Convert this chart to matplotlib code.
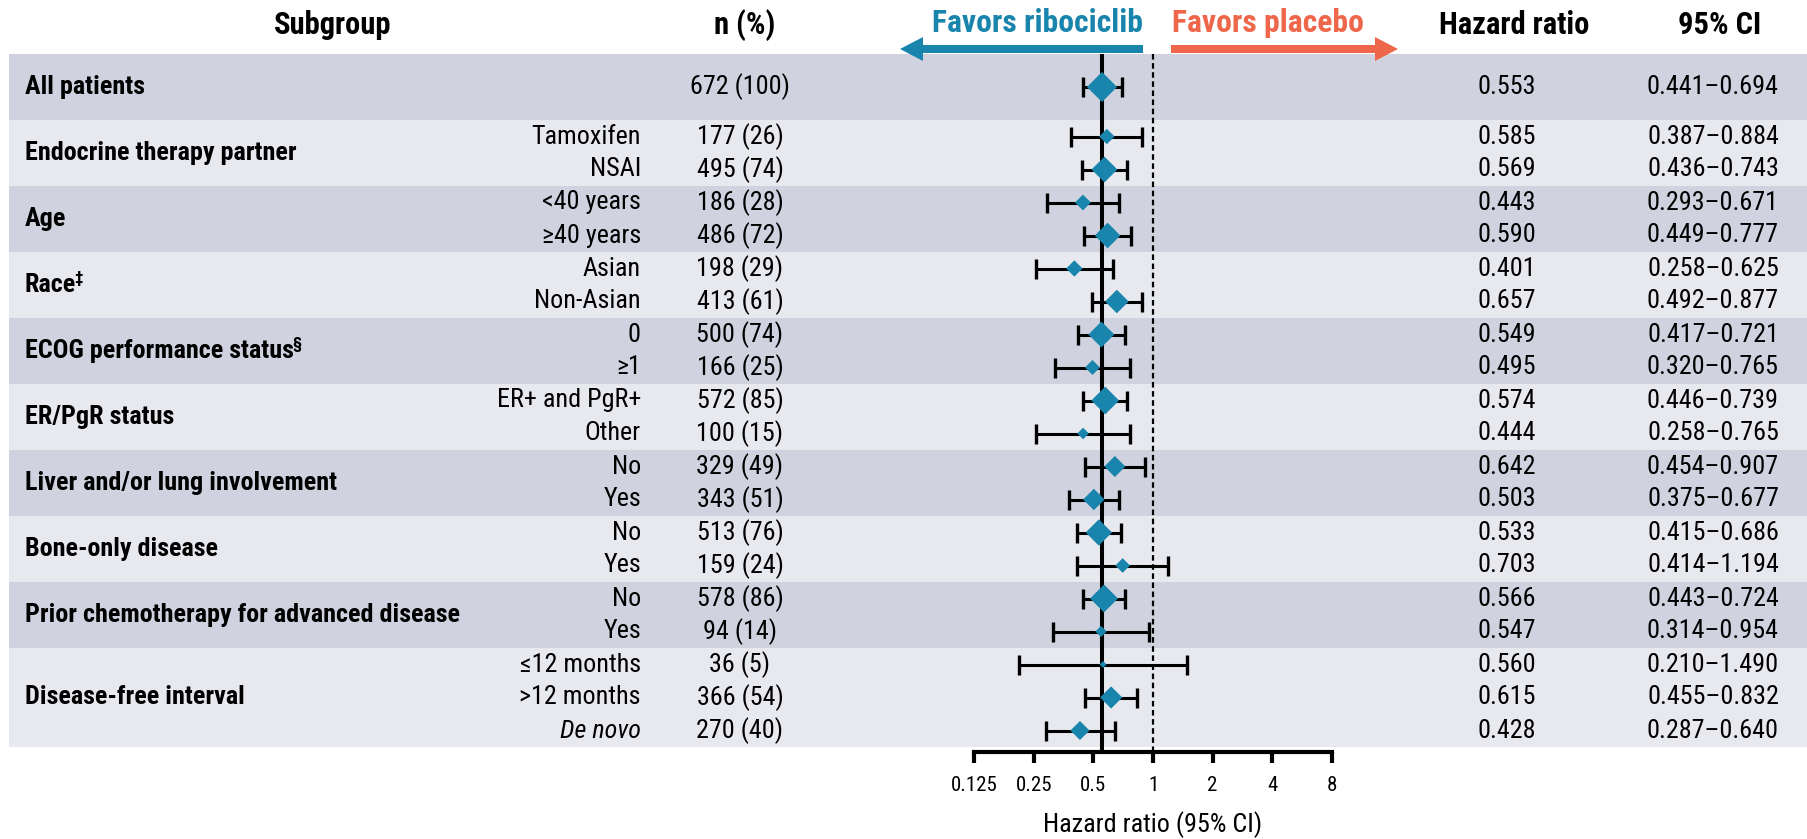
import numpy as np
import matplotlib
matplotlib.use("Agg")
import matplotlib.pyplot as plt
from matplotlib.patches import FancyArrow
from matplotlib.ticker import FixedLocator, NullLocator

plt.rcParams['font.family'] = ['Liberation Sans Narrow', 'Arial Narrow', 'Roboto Condensed',
                               'Liberation Sans', 'DejaVu Sans']

# data
groups = ["All patients", "Endocrine therapy partner", "Age", "Race", "ECOG performance status",
          "ER/PgR status", "Liver and/or lung involvement", "Bone-only disease",
          "Prior chemotherapy for advanced disease", "Disease-free interval"]
group_marks = ["", "", "", "‡", "§", "", "", "", "", ""]

row_group = [0, 1, 1, 2, 2, 3, 3, 4, 4, 5, 5, 6, 6, 7, 7, 8, 8, 9, 9, 9]
row_label = ["", "Tamoxifen", "NSAI", "<40 years", "≥40 years", "Asian", "Non-Asian", "0", "≥1",
             "ER+ and PgR+", "Other", "No", "Yes", "No", "Yes", "No", "Yes",
             "≤12 months", ">12 months", "De novo"]
n_pts = [672, 177, 495, 186, 486, 198, 413, 500, 166, 572, 100, 329, 343, 513, 159, 578, 94, 36, 366, 270]
n_pct = [100, 26, 74, 28, 72, 29, 61, 74, 25, 85, 15, 49, 51, 76, 24, 86, 14, 5, 54, 40]
hr = [0.553, 0.585, 0.569, 0.443, 0.590, 0.401, 0.657, 0.549, 0.495, 0.574, 0.444,
      0.642, 0.503, 0.533, 0.703, 0.566, 0.547, 0.560, 0.615, 0.428]
ci_lo = [0.441, 0.387, 0.436, 0.293, 0.449, 0.258, 0.492, 0.417, 0.320, 0.446, 0.258,
         0.454, 0.375, 0.415, 0.414, 0.443, 0.314, 0.210, 0.455, 0.287]
ci_hi = [0.694, 0.884, 0.743, 0.671, 0.777, 0.625, 0.877, 0.721, 0.765, 0.739, 0.765,
         0.907, 0.677, 0.686, 1.194, 0.724, 0.954, 1.490, 0.832, 0.640]

ticks = [0.125, 0.25, 0.5, 1, 2, 4, 8]
tick_labels = ["0.125", "0.25", "0.5", "1", "2", "4", "8"]

blue = "#1985ad"
coral = "#ee674b"
band_dark = "#d0d3df"
band_light = "#e8e9ef"

W, H = 1808, 839
top_px = 54     # top of first band
row_px = 33     # height of one row
axis_px = 752   # y of the hazard ratio axis line
x0_px, x1_px = 974, 1332   # where 0.125 and 8 sit

def py(px):
    return (px - top_px) / row_px

fig = plt.figure(figsize=(W / 100, H / 100), dpi=100)
bg = fig.add_axes([0, 0, 1, 1])
bg.set_xlim(0, W)
bg.set_ylim(py(H), py(0))
bg.axis('off')

row_y = [1.0] + [1.5 + i for i in range(1, len(hr))]
fs = 18.8

# bands + group labels
for g, name in enumerate(groups):
    ys = [row_y[i] for i in range(len(hr)) if row_group[i] == g]
    if g == 0:
        lo, hi = 0, 2
    else:
        lo, hi = min(ys) - 0.5, max(ys) + 0.5
    bg.axhspan(lo, hi, xmin=9 / W, xmax=1, color=band_dark if g % 2 == 0 else band_light, lw=0)
    t = bg.text(25, (lo + hi) / 2, name, ha='left', va='center', fontsize=fs, fontweight='bold')
    if group_marks[g]:
        bg.annotate(group_marks[g], xy=(1.0, 0.78), xycoords=t, xytext=(-1.5, 0), textcoords='offset points',
                    ha='left', va='center', fontsize=12, fontweight='bold')

# table columns
for i in range(len(hr)):
    y = row_y[i]
    if row_label[i]:
        bg.text(641, y, row_label[i], ha='right', va='center', fontsize=fs,
                style='italic' if row_label[i] == "De novo" else 'normal')
    bg.text(740, y, f"{n_pts[i]} ({n_pct[i]})", ha='center', va='center', fontsize=fs)
    bg.text(1507, y, f"{hr[i]:.3f}", ha='center', va='center', fontsize=fs)
    bg.text(1713, y, f"{ci_lo[i]:.3f}\u2013{ci_hi[i]:.3f}", ha='center', va='center', fontsize=fs)

# headers
hy = py(25)
for x, s in [(333, "Subgroup"), (745, "n (%)"), (1514, "Hazard ratio"), (1720, "95% CI")]:
    bg.text(x, hy, s, ha='center', va='center', fontsize=22, fontweight='bold')

# favors arrows
ay = py(49)
bg.add_patch(FancyArrow(1143, ay, -243, 0, width=8 / row_px, head_width=24 / row_px, head_length=23,
                        length_includes_head=True, color=blue, lw=0))
bg.add_patch(FancyArrow(1171, ay, 227, 0, width=8 / row_px, head_width=24 / row_px, head_length=23,
                        length_includes_head=True, color=coral, lw=0))
bg.text(1143, py(23), "Favors ribociclib", ha='right', va='center', fontsize=22.8, fontweight='bold', color=blue)
bg.text(1172, py(23), "Favors placebo", ha='left', va='center', fontsize=22.8, fontweight='bold', color=coral)

# forest plot
fx = fig.add_axes([x0_px / W, (H - axis_px) / H, (x1_px - x0_px) / W, (axis_px - top_px) / H])
fx.patch.set_visible(False)
fx.set_xscale('log', base=2)
fx.set_xlim(ticks[0], ticks[-1])
fx.set_ylim(py(axis_px), 0)

hr_a = np.array(hr)
err = [hr_a - np.array(ci_lo), np.array(ci_hi) - hr_a]
fx.errorbar(hr_a, row_y, xerr=err, fmt='none', ecolor='black', elinewidth=2.2,
            capsize=7, capthick=2.4, zorder=3)
fx.axvline(hr[0], color='black', lw=2.9, zorder=2)
fx.axvline(1, color='black', lw=1.6, ls=(0, (2.5, 1.6)), zorder=2)

diamond = [(0, 1), (1, 0), (0, -1), (-1, 0), (0, 1)]
fx.scatter(hr_a, row_y, s=0.7 * np.array(n_pts), marker=diamond, color=blue, linewidths=0, zorder=4)

for side in ['top', 'left', 'right']:
    fx.spines[side].set_visible(False)
fx.spines['bottom'].set_linewidth(3)
fx.set_yticks([])
fx.xaxis.set_major_locator(FixedLocator(ticks))
fx.xaxis.set_minor_locator(NullLocator())
fx.set_xticklabels(tick_labels)
fx.tick_params(axis='x', direction='out', length=8, width=3, pad=9, labelsize=15)
fx.set_xlabel("Hazard ratio (95% CI)", fontsize=fs, labelpad=12)

fig.savefig("out.png", dpi=100)
